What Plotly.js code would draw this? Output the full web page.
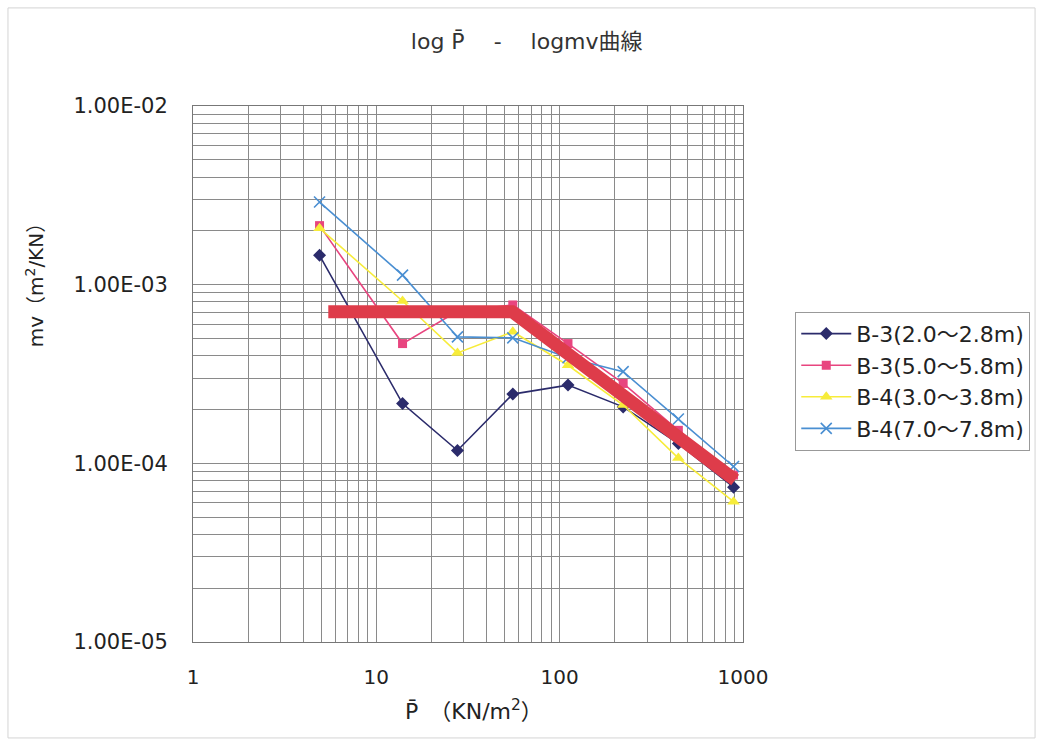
<!DOCTYPE html>
<html>
<head>
<meta charset="utf-8">
<script src="https://cdn.plot.ly/plotly-3.0.1.min.js"></script>
<style>html,body{margin:0;padding:0;background:#fff;}#chart{width:1043px;height:743px;}</style>
</head>
<body>
<div id="chart"></div>
<script>
// Mean pressure P̄ (kN/m²)
const pressure = [4.9, 13.9, 27.7, 55.5, 111, 222, 444, 888];
// mv (m²/kN) per sample
const b3_20_28 = [1.46e-3, 2.16e-4, 1.18e-4, 2.44e-4, 2.74e-4, 2.07e-4, 1.29e-4, 7.35e-5];
const b3_50_58 = [2.14e-3, 4.68e-4, 7.1e-4, 7.7e-4, 4.68e-4, 2.8e-4, 1.53e-4, 8.6e-5];
const b4_30_38 = [2.07e-3, 8.1e-4, 4.15e-4, 5.45e-4, 3.54e-4, 2.12e-4, 1.07e-4, 6.1e-5];
const b4_70_78 = [2.9e-3, 1.13e-3, 5.1e-4, 5.04e-4, 3.9e-4, 3.26e-4, 1.77e-4, 9.6e-5];
const seriesNames = ["B-3(2.0～2.8m)", "B-3(5.0～5.8m)", "B-4(3.0～3.8m)", "B-4(7.0～7.8m)"];
// Hand-drawn design line
const designX = [5.47, 55, 906];
const designY = [7.06e-4, 7.06e-4, 8.07e-5];
// Axis ticks
const xTickVals = [];
const xTickText = [];
for (let d = 0; d < 3; d++) for (let m = 1; m < 10; m++) { xTickVals.push(m * Math.pow(10, d)); xTickText.push(m === 1 ? String(Math.pow(10, d)) : ""); }
xTickVals.push(1000); xTickText.push("1000");
const yTickVals = [];
const yTickText = [];
const yMajorLabels = {"-5": "1.00E-05", "-4": "1.00E-04", "-3": "1.00E-03", "-2": "1.00E-02"};
for (let d = -5; d < -2; d++) for (let m = 1; m < 10; m++) { yTickVals.push(m * Math.pow(10, d)); yTickText.push(m === 1 ? yMajorLabels[String(d)] : ""); }
yTickVals.push(1e-2); yTickText.push(yMajorLabels["-2"]);

const font = "DejaVu Sans, Noto Sans CJK JP, sans-serif";
const traces = [
  {x: pressure, y: b3_20_28, name: seriesNames[0], mode: "lines+markers",
   line: {color: "#2b2b6b", width: 1.6}, marker: {symbol: "diamond", size: 10, color: "#2b2b6b"}},
  {x: pressure, y: b3_50_58, name: seriesNames[1], mode: "lines+markers",
   line: {color: "#e8457f", width: 1.6}, marker: {symbol: "square", size: 9, color: "#e8457f"}},
  {x: pressure, y: b4_30_38, name: seriesNames[2], mode: "lines+markers",
   line: {color: "#f7ec3a", width: 1.6}, marker: {symbol: "triangle-up", size: 11, color: "#f7ec3a"}},
  {x: pressure, y: b4_70_78, name: seriesNames[3], mode: "lines+markers",
   line: {color: "#4a8fd2", width: 1.6}, marker: {symbol: "x-thin-open", size: 11, color: "#4a8fd2", line: {width: 1.6, color: "#4a8fd2"}}},
  {x: designX, y: designY, mode: "lines", showlegend: false, hoverinfo: "skip",
   line: {color: "#de3c4a", width: 13}}
];
const layout = {
  width: 1043, height: 743,
  paper_bgcolor: "#fff", plot_bgcolor: "#fff",
  margin: {l: 193, r: 300, t: 106, b: 101},
  title: {text: "log P\u0304 　-　 logmv曲線", x: 0.505, xanchor: "center", y: 0.945, yanchor: "middle",
          font: {family: font, size: 22, color: "#333"}},
  xaxis: {type: "log", range: [0, 3], tickmode: "array", tickvals: xTickVals, ticktext: xTickText,
          showgrid: true, gridcolor: "#8a8a8a", gridwidth: 1, zeroline: false,
          showline: true, linecolor: "#777", linewidth: 1, mirror: true, ticks: "",
          ticklabelstandoff: 17, tickfont: {family: font, size: 20, color: "#222"}},
  yaxis: {type: "log", range: [-5, -2], tickmode: "array", tickvals: yTickVals, ticktext: yTickText,
          showgrid: true, gridcolor: "#8a8a8a", gridwidth: 1, zeroline: false,
          showline: true, linecolor: "#777", linewidth: 1, mirror: true, ticks: "",
          ticklabelstandoff: 20, tickfont: {family: font, size: 21, color: "#222"}},
  annotations: [
    {text: "P\u0304　（KN/m<sup>2</sup>）", xref: "paper", yref: "paper", x: 0.51, y: -0.127,
     xanchor: "center", yanchor: "middle", showarrow: false, font: {family: font, size: 22, color: "#222"}},
    {text: "mv（m<sup>2</sup>/KN）", xref: "paper", yref: "paper", x: -0.287, y: 0.675, textangle: -90,
     xanchor: "center", yanchor: "middle", showarrow: false, font: {family: font, size: 20, color: "#222"}}
  ],
  legend: {x: 1.095, xanchor: "left", y: 0.616, yanchor: "top", bgcolor: "#fff",
           bordercolor: "#999", borderwidth: 1, font: {family: font, size: 22, color: "#222"},
           tracegroupgap: 0, itemwidth: 50},
  showlegend: true,
  shapes: [{type: "rect", xref: "paper", yref: "paper", x0: -0.3364, x1: 1.531, y0: -0.179, y1: 1.183,
            line: {color: "#d4d4d4", width: 1}}]
};
Plotly.newPlot("chart", traces, layout, {displayModeBar: false, staticPlot: true});
</script>
</body>
</html>
